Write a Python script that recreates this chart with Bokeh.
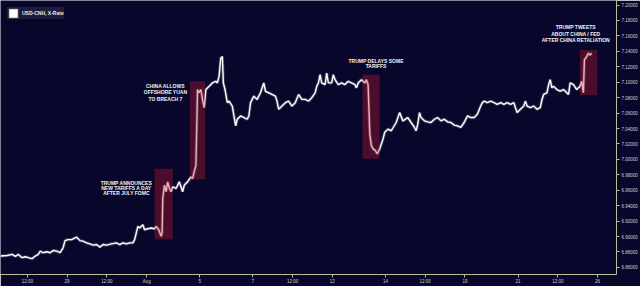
from bokeh.plotting import figure
from bokeh.models import (Range1d, FixedTicker, PrintfTickFormatter,
                          Legend, LegendItem, ColumnDataSource)
from bokeh.core.properties import value
from bokeh.embed import file_html
from bokeh.resources import INLINE

# trading-day index (weekends removed): Jul 29 = 1, Aug 1 = 4, ... Aug 26 = 21
day = [-1.509, -1.258, -1.071, -0.948, -0.835, -0.697, -0.573, -0.461, -0.322, -0.199,
       -0.086, -0.011, 0.101, 0.240, 0.363, 0.476, 0.614, 0.738, 0.850, 0.925,
       1.037, 1.176, 1.300, 1.363, 1.487, 1.599, 1.738, 1.861, 1.985, 2.112,
       2.236, 2.360, 2.487, 2.674, 2.861, 2.985, 3.109, 3.236, 3.360, 3.483,
       3.547, 3.670, 3.734, 3.858, 3.921, 4.045, 4.172, 4.296, 4.360, 4.457,
       4.547, 4.584, 4.607, 4.670, 4.734, 4.794, 4.858, 4.921, 4.981, 5.109,
       5.232, 5.356, 5.419, 5.543, 5.670, 5.730, 5.794, 5.858, 5.918, 5.981,
       6.045, 6.105, 6.169, 6.232, 6.356, 6.479, 6.607, 6.667, 6.730, 6.794,
       6.854, 6.891, 6.955, 7.041, 7.105, 7.228, 7.292, 7.356, 7.416, 7.543,
       7.667, 7.790, 7.854, 7.918, 8.041, 8.165, 8.292, 8.416, 8.479, 8.603,
       8.727, 8.854, 8.914, 8.978, 9.101, 9.229, 9.352, 9.476, 9.603, 9.727,
       9.850, 9.978, 10.101, 10.225, 10.352, 10.412, 10.476, 10.539, 10.599, 10.727,
       10.787, 10.850, 10.974, 11.037, 11.101, 11.225, 11.348, 11.476, 11.599, 11.723,
       11.850, 11.910, 11.974, 12.097, 12.225, 12.285, 12.348, 12.412, 12.472, 12.536,
       12.622, 12.697, 12.787, 12.910, 12.974, 13.097, 13.221, 13.408, 13.536, 13.659,
       13.846, 13.970, 14.097, 14.157, 14.221, 14.285, 14.345, 14.472, 14.596, 14.719,
       14.846, 14.970, 15.094, 15.221, 15.345, 15.468, 15.596, 15.719, 15.843, 15.970,
       16.094, 16.217, 16.345, 16.468, 16.592, 16.655, 16.719, 16.843, 16.966, 17.094,
       17.217, 17.341, 17.468, 17.592, 17.715, 17.843, 17.903, 17.966, 18.090, 18.217,
       18.277, 18.341, 18.464, 18.592, 18.715, 18.839, 18.903, 18.966, 19.090, 19.154,
       19.213, 19.277, 19.341, 19.464, 19.588, 19.715, 19.839, 19.903, 19.963, 20.090,
       20.213, 20.337, 20.401, 20.464, 20.502, 20.588, 20.652, 20.712, 20.775]

rate = [6.8747, 6.8755, 6.8768, 6.8742, 6.8768, 6.8726, 6.8738, 6.8726, 6.8713, 6.8747,
        6.8768, 6.8811, 6.8790, 6.8803, 6.8790, 6.8819, 6.8811, 6.8790, 6.8854, 6.8947,
        6.8960, 6.8960, 6.8982, 6.8991, 6.8947, 6.8940, 6.8918, 6.8905, 6.8888, 6.8896,
        6.8863, 6.8896, 6.8888, 6.8905, 6.8918, 6.8896, 6.8918, 6.8905, 6.8918, 6.8918,
        6.8960, 6.9132, 6.9110, 6.9152, 6.9088, 6.9101, 6.9110, 6.9101, 6.9132, 6.9088,
        6.9004, 6.9046, 6.9495, 6.9665, 6.9581, 6.9709, 6.9623, 6.9581, 6.9645, 6.9623,
        6.9709, 6.9581, 6.9665, 6.9709, 6.9773, 6.9751, 6.9841, 6.9922, 7.0905, 7.0863,
        7.0905, 7.0777, 7.0670, 7.0905, 7.0947, 7.0991, 7.1012, 7.0991, 7.1076, 7.1312,
        7.1332, 7.0991, 7.0905, 7.0735, 7.0755, 7.0691, 7.0563, 7.0435, 7.0520, 7.0563,
        7.0542, 7.0520, 7.0563, 7.0735, 7.0819, 7.0777, 7.0863, 7.0991, 7.0883, 7.0863,
        7.0841, 7.0819, 7.0755, 7.0649, 7.0691, 7.0735, 7.0755, 7.0691, 7.0735, 7.0841,
        7.0777, 7.0777, 7.0755, 7.0799, 7.0863, 7.0947, 7.0991, 7.1097, 7.0991, 7.0969,
        7.1119, 7.0991, 7.0991, 7.1097, 7.1033, 7.0969, 7.0991, 7.0969, 7.1012, 7.0991,
        7.0969, 7.0927, 7.0991, 7.1033, 7.0991, 7.1033, 7.0969, 7.0328, 7.0178, 7.0136,
        7.0114, 7.0072, 7.0136, 7.0264, 7.0350, 7.0392, 7.0371, 7.0478, 7.0606, 7.0499,
        7.0542, 7.0478, 7.0414, 7.0371, 7.0456, 7.0606, 7.0542, 7.0499, 7.0486, 7.0478,
        7.0520, 7.0542, 7.0499, 7.0520, 7.0486, 7.0478, 7.0444, 7.0435, 7.0414, 7.0478,
        7.0563, 7.0542, 7.0542, 7.0585, 7.0691, 7.0735, 7.0755, 7.0735, 7.0755, 7.0735,
        7.0713, 7.0735, 7.0713, 7.0735, 7.0713, 7.0735, 7.0670, 7.0606, 7.0649, 7.0691,
        7.0755, 7.0691, 7.0670, 7.0691, 7.0649, 7.0670, 7.0777, 7.0841, 7.0863, 7.0969,
        7.1033, 7.0927, 7.0947, 7.0905, 7.0883, 7.0905, 7.0863, 7.0841, 7.0991, 7.0969,
        7.0905, 7.0947, 7.1012, 7.0863, 7.1290, 7.1332, 7.1376, 7.1354, 7.1376]

tick_days = [-0.5, 1, 2.5, 4, 6, 8, 9.5, 11, 13, 14.5, 16, 18, 19.5, 21]
tick_labels = ["12:00", "29", "12:00", "Aug", "5", "7", "12:00", "12", "14",
               "12:00", "19", "21", "12:00", "26"]
rate_ticks = [6.86, 6.88, 6.90, 6.92, 6.94, 6.96, 6.98, 7.00, 7.02, 7.04,
              7.06, 7.08, 7.10, 7.12, 7.14, 7.16, 7.18, 7.20]

# highlighted event windows
ev_left = [4.296, 5.633, 12.135, 20.337]
ev_right = [4.983, 6.206, 12.787, 20.989]
ev_bottom = [6.8960, 6.9742, 7.0008, 7.0832]
ev_top = [6.9879, 7.1012, 7.1097, 7.1418]

# annotation lines
note_x = [3.236, 3.236, 3.236, 4.708, 4.708, 4.708, 12.648, 12.648, 20.176, 20.176, 20.176]
note_y = [6.9700, 6.9630, 6.9559, 7.0957, 7.0870, 7.0786, 7.1277, 7.1204, 7.1717, 7.1623, 7.1546]
note_text = ["TRUMP ANNOUNCES", "NEW TARIFFS A DAY", "AFTER JULY FOMC",
             "CHINA ALLOWS", "OFFSHORE YUAN", "TO BREACH 7",
             "TRUMP DELAYS SOME", "TARIFFS",
             "TRUMP TWEETS", "ABOUT CHINA / FED", "AFTER CHINA RETALIATION"]

series_name = "USD-CNH, X-Rate"

BG = "#08062a"
AX = "#bdbd9d"

p = figure(width=640, height=286, output_backend="svg", toolbar_location=None,
           x_range=Range1d(-1.509, 21.712), y_range=Range1d(6.8508, 7.2059),
           x_axis_location="below", y_axis_location="right",
           min_border_left=0, min_border_top=0, min_border_right=0, min_border_bottom=0,
           background_fill_color=BG, border_fill_color=BG, outline_line_color=None)
p.xgrid.visible = False
p.ygrid.visible = False

for ax in (p.xaxis[0], p.yaxis[0]):
    ax.axis_line_color = AX
    ax.axis_line_width = 1
    ax.major_tick_line_color = AX
    ax.major_tick_in = 0
    ax.major_tick_out = 3
    ax.minor_tick_line_color = None
    ax.major_label_text_color = "#d0d0d0"
    ax.major_label_text_font = "Liberation Sans"
    ax.major_label_text_font_size = "4.5px"

p.xaxis[0].ticker = FixedTicker(ticks=tick_days)
p.xaxis[0].major_label_overrides = {t: l for t, l in zip(tick_days, tick_labels)}
p.xaxis[0].major_label_standoff = 1
p.yaxis[0].ticker = FixedTicker(ticks=rate_ticks)
p.yaxis[0].formatter = PrintfTickFormatter(format="%.5f")
p.yaxis[0].major_label_standoff = 2

src = ColumnDataSource(dict(day=day, rate=rate))
p.line("day", "rate", source=src, line_color="white", line_width=3.2, line_alpha=0.22)
p.line("day", "rate", source=src, line_color="white", line_width=1.4)

p.quad(left=ev_left, right=ev_right, bottom=ev_bottom, top=ev_top,
       fill_color="#c81e32", fill_alpha=0.35, line_color=None)

p.text(x=note_x, y=note_y, text=note_text, text_font=value("Liberation Sans"),
       text_font_style="bold", text_font_size="5px", text_align="center",
       text_baseline="middle", text_color="#f2f2f2")

# legend swatch: a white box that only appears in the legend (drawn off-range)
swatch = p.quad(left=[day[0] - 10], right=[day[0] - 9], bottom=[rate[0]], top=[rate[0]],
                fill_color="white", line_color="#333333", line_width=1)
legend = Legend(items=[LegendItem(label=series_name, renderers=[swatch])],
                location="top_left", margin=7, padding=2, spacing=0,
                glyph_width=12, glyph_height=12, label_standoff=3,
                label_text_font="Liberation Sans", label_text_font_style="bold",
                label_text_font_size="5px", label_text_color="#e8e8e8",
                label_height=12, border_line_color=None,
                background_fill_color="#1d1c3e", background_fill_alpha=1.0)
p.add_layout(legend)

open("out.html", "w").write(file_html(p, INLINE))
